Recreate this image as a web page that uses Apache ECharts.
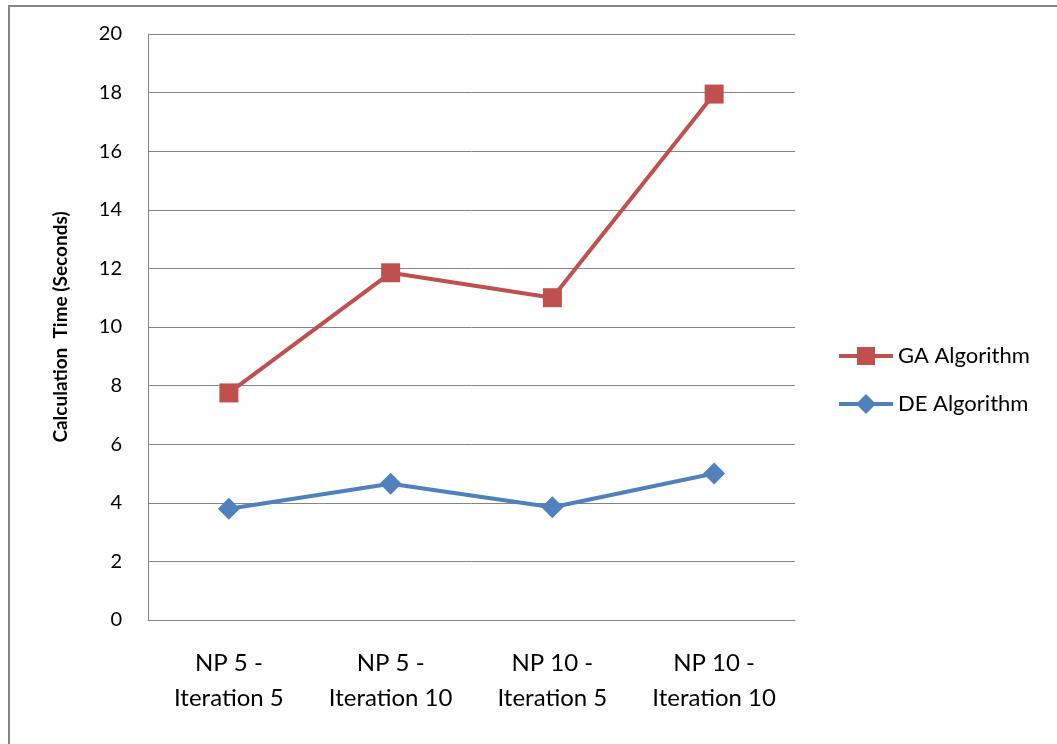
<!DOCTYPE html>
<html>
<head>
<meta charset="utf-8">
<script src="https://cdn.jsdelivr.net/npm/echarts@6/dist/echarts.min.js"></script>
<style>
html,body{margin:0;padding:0;background:#fff;}
#chart{width:1057px;height:744px;}
</style>
</head>
<body>
<div id="chart"></div>
<script>
const categories = ["NP 5 -\nIteration 5", "NP 5 -\nIteration 10", "NP 10 -\nIteration 5", "NP 10 -\nIteration 10"];
const gaValues = [7.75, 11.85, 11.0, 17.95];
const deValues = [3.8, 4.65, 3.85, 5.0];
const yTicks = [0, 2, 4, 6, 8, 10, 12, 14, 16, 18, 20];
const seriesNames = ["GA Algorithm", "DE Algorithm"];

const chart = echarts.init(document.getElementById('chart'));
const font = 'Lato, "Open Sans", sans-serif';
chart.setOption({
  animation: false,
  backgroundColor: '#fff',
  textStyle: { fontFamily: font },
  graphic: [{
    type: 'rect',
    shape: { x: 9, y: 6, width: 1100, height: 800 },
    style: { fill: 'none', stroke: '#868686', lineWidth: 2 },
    silent: true
  }],
  grid: { left: 148, top: 34, width: 647, height: 586 },
  legend: {
    orient: 'vertical',
    left: 834,
    top: 340,
    itemGap: 26,
    itemWidth: 54,
    itemHeight: 20,
    textStyle: { fontSize: 22, color: '#000', fontFamily: font },
    data: [
      { name: seriesNames[0], icon: 'path://M0,8 L18,8 L18,1 L36,1 L36,8 L54,8 L54,12 L36,12 L36,19 L18,19 L18,12 L0,12 Z' },
      { name: seriesNames[1], icon: 'path://M0,8 L19,8 L27,0 L35,8 L54,8 L54,12 L35,12 L27,20 L19,12 L0,12 Z' }
    ]
  },
  xAxis: {
    type: 'category',
    data: categories,
    boundaryGap: true,
    axisLine: { show: true, lineStyle: { color: '#868686', width: 1 } },
    axisTick: { show: false },
    axisLabel: { fontSize: 24, color: '#000', lineHeight: 35, margin: 26, fontFamily: font }
  },
  yAxis: {
    type: 'value',
    min: 0, max: 20, interval: 2,
    name: 'Calculation  Time (Seconds)',
    nameLocation: 'middle',
    nameGap: 78,
    nameTextStyle: { fontSize: 19, fontWeight: 'bold', color: '#000', fontFamily: font },
    axisLine: { show: true, lineStyle: { color: '#868686', width: 1 } },
    axisTick: { show: false },
    splitLine: { show: true, lineStyle: { color: '#868686', width: 1 } },
    axisLabel: {
      fontSize: 20, color: '#000', margin: 26, fontFamily: font,
      formatter: v => yTicks.includes(v) ? String(v) : ''
    }
  },
  series: [
    {
      name: seriesNames[0], type: 'line', data: gaValues,
      symbol: 'rect', symbolSize: 19,
      lineStyle: { color: '#C0504D', width: 4 },
      itemStyle: { color: '#C0504D' }
    },
    {
      name: seriesNames[1], type: 'line', data: deValues,
      symbol: 'diamond', symbolSize: 22,
      lineStyle: { color: '#4F81BD', width: 4 },
      itemStyle: { color: '#4F81BD' }
    }
  ]
});
</script>
</body>
</html>
